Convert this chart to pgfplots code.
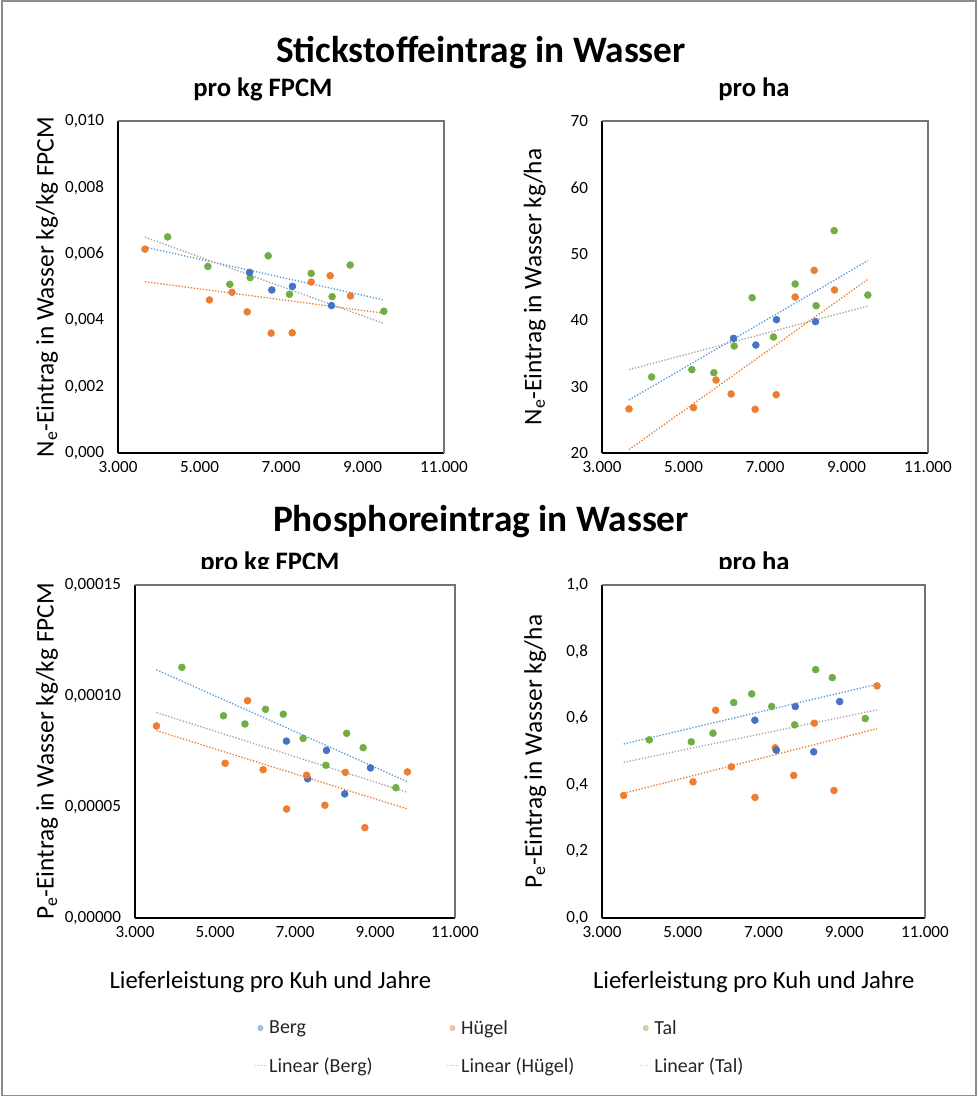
\documentclass[border=0pt]{standalone}
\usepackage{fontspec}
\setmainfont{Carlito}
\usepackage{pgfplots}
\pgfplotsset{compat=1.18}
\definecolor{cB}{HTML}{4472C4}
\definecolor{cO}{HTML}{ED7D31}
\definecolor{cG}{HTML}{70AD47}
\definecolor{tB}{HTML}{5B9BD5}
\definecolor{tO}{HTML}{ED7D31}
\definecolor{tG}{HTML}{A5A5A5}
\pgfplotsset{
  exc/.style={
    scale only axis, anchor=south west,
    xmin=3000, xmax=11000, xtick={3000,5000,7000,9000,11000},
    xticklabels={3.000,5.000,7.000,9.000,11.000},
    axis x line*=bottom, axis y line*=left,
    axis line style={-, black, line width=1.4pt},
    major tick length=0pt,
    scaled ticks=false,
    /pgf/number format/assume math mode=true,
    tick label style={font=\fontsize{12.8}{14}\selectfont, text=black},
    yticklabel style={xshift=-7pt},
    xticklabel style={yshift=-3pt},
    after end axis/.code={\draw[black!55, line width=1pt] (rel axis cs:0,1) -- (rel axis cs:1,1) -- (rel axis cs:1,0);},
  },
  yl/.style={every axis y label/.style={at={(axis description cs:#1,0.5)}, rotate=90, anchor=center, font=\fontsize{19}{22}\selectfont}},
  xl/.style={every axis x label/.style={at={(axis description cs:#1,-0.192)}, anchor=center, font=\fontsize{18.5}{22}\selectfont}},
  pts/.style={only marks, mark=*, mark size=2.6pt, color=#1, mark options={fill=#1, draw=#1},
    legend image code/.code={\draw[##1, opacity=0.45, mark size=2pt] plot coordinates {(4pt,0pt)};}},
  trd/.style={color=#1, line width=1pt, dash pattern=on 1pt off 1.3pt,
    legend image code/.code={\draw[##1, opacity=0.45] (0pt,0pt) -- (8pt,0pt);}},
}
\begin{document}
\begin{tikzpicture}
\path[use as bounding box] (0pt,0pt) rectangle (733.5pt,822.75pt);
\draw[black!45, line width=0.8pt] (1.5pt,1pt) rectangle (732pt,822pt);
% titles
\node[anchor=base, font=\fontsize{28}{32}\selectfont\bfseries] at (360.75pt,775.5pt) {Stickstoffeintrag in Wasser};
\node[anchor=base, font=\fontsize{20}{24}\selectfont\bfseries] at (197.25pt,750pt) {pro kg FPCM};
\node[anchor=base, font=\fontsize{20}{24}\selectfont\bfseries] at (565.5pt,750pt) {pro ha};
\node[anchor=base, font=\fontsize{28}{32}\selectfont\bfseries] at (360.75pt,423.75pt) {Phosphoreintrag in Wasser};
\begin{scope}
\clip (0pt,396pt) rectangle (733.5pt,420pt);
\node[anchor=base, font=\fontsize{20}{24}\selectfont\bfseries] at (202.5pt,394.5pt) {pro kg FPCM};
\node[anchor=base, font=\fontsize{20}{24}\selectfont\bfseries] at (565.5pt,394.5pt) {pro ha};
\end{scope}

% top left
\begin{axis}[exc, at={(88.5pt,483pt)}, width=244.5pt, height=249pt,
  ymin=0, ymax=0.010, ytick={0,0.002,0.004,0.006,0.008,0.010},
  yticklabels={{0,000},{0,002},{0,004},{0,006},{0,008},{0,010}},
  ylabel={N\textsubscript{e}-Eintrag in Wasser kg/kg FPCM}, yl=-0.218]
\addplot[pts=cO] coordinates {(3663,0.00614) (5245,0.00461) (5798,0.00484) (6170,0.00425) (6758,0.00361) (7275,0.00362) (7740,0.00515) (8206,0.00534) (8705,0.00473)};
\addplot[pts=cG] coordinates {(4218,0.00651) (5205,0.00562) (5745,0.00508) (6243,0.00528) (6685,0.00594) (7208,0.00478) (7740,0.00541) (8255,0.00471) (8697,0.00566) (9524,0.00427)};
\addplot[pts=cB] coordinates {(6230,0.00544) (6775,0.00491) (7282,0.00502) (8239,0.00444)};
\addplot[trd=tB] coordinates {(3663,0.00620) (9524,0.00461)};
\addplot[trd=tG] coordinates {(3663,0.00650) (9524,0.00390)};
\addplot[trd=tO] coordinates {(3663,0.00516) (9524,0.00421)};
\end{axis}

% top right
\begin{axis}[exc, at={(451.5pt,483pt)}, width=244.5pt, height=249pt,
  ymin=20, ymax=70, ytick={20,30,40,50,60,70},
  yticklabels={20,30,40,50,60,70},
  ylabel={N\textsubscript{e}-Eintrag in Wasser kg/ha}, yl=-0.206]
\addplot[pts=cO] coordinates {(3663,26.63) (5245,26.83) (5798,30.99) (6170,28.89) (6758,26.58) (7275,28.78) (7740,43.49) (8206,47.51) (8705,44.55)};
\addplot[pts=cG] coordinates {(4218,31.45) (5205,32.55) (5745,32.09) (6243,36.11) (6685,43.39) (7208,37.47) (7740,45.45) (8255,42.18) (8697,53.48) (9524,43.79)};
\addplot[pts=cB] coordinates {(6230,37.27) (6775,36.26) (7282,40.08) (8239,39.78)};
\addplot[trd=tB] coordinates {(3663,27.98) (9524,48.96)};
\addplot[trd=tG] coordinates {(3663,32.55) (9524,42.14)};
\addplot[trd=tO] coordinates {(3663,20.5) (9524,46.16)};
\end{axis}

% bottom left
\begin{axis}[exc, at={(101.25pt,134.25pt)}, width=240pt, height=249.75pt,
  ymin=0, ymax=0.00015, ytick={0,0.00005,0.0001,0.00015},
  yticklabels={{0,00000},{0,00005},{0,00010},{0,00015}},
  ylabel={P\textsubscript{e}-Eintrag in Wasser kg/kg FPCM}, yl=-0.275,
  xlabel={Lieferleistung pro Kuh und Jahre}, xl=0.423,
  legend style={at={(0.36,-0.29)}, anchor=north west, draw=none, fill=none,
    font=\fontsize{15}{18}\selectfont, text=black!85, row sep=12pt,
    /tikz/every even column/.append style={column sep=0pt}},
  legend columns=3, legend cell align=left]
\addplot[pts=cB] coordinates {(6786,0.0000797) (7317,0.0000627) (7788,0.0000755) (8243,0.0000559) (8887,0.0000676)};
\addlegendentry{\makebox[131pt][l]{Berg}}
\addplot[pts=cO] coordinates {(3537,0.0000865) (5254,0.0000697) (5815,0.0000979) (6203,0.0000668) (6789,0.0000491) (7292,0.0000643) (7748,0.0000508) (8259,0.0000656) (8746,0.0000407) (9811,0.0000658)};
\addlegendentry{\makebox[132pt][l]{Hügel}}
\addplot[pts=cG] coordinates {(4172,0.0001129) (5212,0.0000911) (5749,0.0000874) (6262,0.0000940) (6708,0.0000918) (7203,0.0000809) (7772,0.0000688) (8292,0.0000832) (8704,0.0000767) (9521,0.0000587)};
\addlegendentry{\makebox[132pt][l]{Tal}}
\addplot[trd=tB] coordinates {(3537,0.0001118) (9811,0.0000614)};
\addlegendentry{\makebox[131pt][l]{Linear (Berg)}}
\addplot[trd=tO] coordinates {(3537,0.0000844) (9811,0.0000491)};
\addlegendentry{\makebox[132pt][l]{Linear (Hügel)}}
\addplot[trd=tG] coordinates {(3537,0.0000925) (9811,0.0000566)};
\addlegendentry{\makebox[132pt][l]{Linear (Tal)}}
\end{axis}

% bottom right
\begin{axis}[exc, at={(451.5pt,134.25pt)}, width=242.25pt, height=249.75pt,
  ymin=0, ymax=1, ytick={0,0.2,0.4,0.6,0.8,1},
  yticklabels={{0,0},{0,2},{0,4},{0,6},{0,8},{1,0}},
  ylabel={P\textsubscript{e}-Eintrag in Wasser kg/ha}, yl=-0.207,
  xlabel={Lieferleistung pro Kuh und Jahre}, xl=0.47]
\addplot[pts=cO] coordinates {(3537,0.368) (5254,0.409) (5815,0.624) (6203,0.454) (6789,0.362) (7292,0.511) (7748,0.428) (8259,0.585) (8746,0.383) (9811,0.697)};
\addplot[pts=cG] coordinates {(4172,0.535) (5212,0.529) (5749,0.555) (6262,0.647) (6708,0.673) (7203,0.635) (7772,0.580) (8292,0.746) (8704,0.722) (9521,0.599)};
\addplot[pts=cB] coordinates {(6786,0.594) (7317,0.504) (7788,0.635) (8243,0.499) (8887,0.650)};
\addplot[trd=tB] coordinates {(3537,0.5225) (9811,0.702)};
\addplot[trd=tG] coordinates {(3537,0.4675) (9811,0.625)};
\addplot[trd=tO] coordinates {(3537,0.3745) (9811,0.5685)};
\end{axis}
\end{tikzpicture}
\end{document}
